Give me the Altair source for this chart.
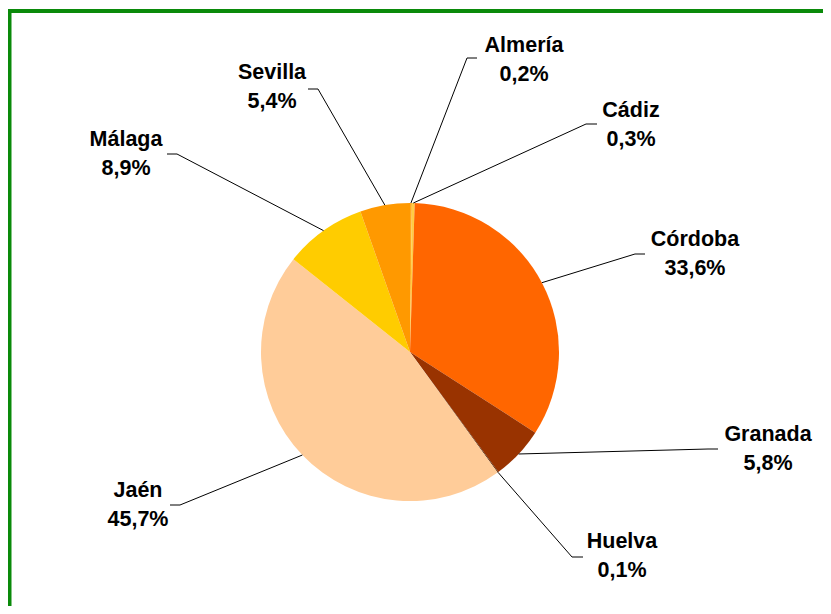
import altair as alt
import pandas as pd

# ---- data ----
regions = ["Almería", "Cádiz", "Córdoba", "Granada", "Huelva", "Jaén", "Málaga", "Sevilla"]
shares = [0.2, 0.3, 33.6, 5.8, 0.1, 45.7, 8.9, 5.4]
colors = ["#FFAA22", "#FFCC44", "#FF6600", "#993300", "#552200", "#FFCC99", "#FFCC00", "#FF9900"]

# ---- layout (chart pixel coordinates) ----
W, H = 815, 598
CX, CY, R = 402, 344, 149
label_x = [516, 623, 687, 760, 614, 130, 118, 264]
name_y = [44, 109, 238, 433, 540, 489, 138, 71]
pct_gap = 29
elbow_x = [459, 578, 627, 700, 564, 172, 169, 310]
elbow_y = [50, 116, 246, 441, 549, 497, 146, 81]
end_x = [469, 589, 637, 710, 575, 162, 159, 300]
end_y = [50, 116, 246, 441, 549, 497, 146, 81]

df = pd.DataFrame({
    "idx": list(range(len(regions))),
    "region": regions,
    "share": shares,
    "pct": [f"{v:.1f}".replace(".", ",") + "%" for v in shares],
    "lx": label_x,
    "ny": name_y,
    "py2": [y + pct_gap for y in name_y],
    "ex": elbow_x,
    "ey": elbow_y,
    "hx": end_x,
    "hy": end_y,
})

xs = alt.Scale(domain=[0, W], range=[0, W])
ys = alt.Scale(domain=[0, H], range=[0, H])
FONT = "Liberation Sans"

base = alt.Chart(df)

pie = base.mark_arc(radius=R).encode(
    theta=alt.Theta("share:Q", stack=True),
    color=alt.Color("region:N", scale=alt.Scale(domain=regions, range=colors), legend=None),
    order=alt.Order("idx:Q"),
    x=alt.value(CX),
    y=alt.value(CY),
)

edge = base.transform_joinaggregate(
    total="sum(share)"
).transform_window(
    cum="sum(share)", frame=[None, 0], sort=[{"field": "idx"}]
).transform_calculate(
    mid=f"(datum.cum - datum.share/2)/datum.total*2*PI",
).transform_calculate(
    px=f"{CX} + {R}*sin(datum.mid)",
    py=f"{CY} - {R}*cos(datum.mid)",
)

leader1 = edge.mark_rule(color="black", strokeWidth=1).encode(
    x=alt.X("px:Q", scale=xs, axis=None),
    y=alt.Y("py:Q", scale=ys, axis=None),
    x2="ex:Q",
    y2="ey:Q",
)

leader2 = base.mark_rule(color="black", strokeWidth=1).encode(
    x=alt.X("ex:Q", scale=xs, axis=None),
    y=alt.Y("ey:Q", scale=ys, axis=None),
    x2="hx:Q",
    y2="hy:Q",
)

names = base.mark_text(font=FONT, fontSize=21.5, fontWeight="bold", color="black",
                       align="center", baseline="alphabetic").encode(
    x=alt.X("lx:Q", scale=xs, axis=None),
    y=alt.Y("ny:Q", scale=ys, axis=None),
    text="region:N",
)

pcts = base.mark_text(font=FONT, fontSize=21.5, fontWeight="bold", color="black",
                      align="center", baseline="alphabetic").encode(
    x=alt.X("lx:Q", scale=xs, axis=None),
    y=alt.Y("py2:Q", scale=ys, axis=None),
    text="pct:N",
)

border = alt.Chart(pd.DataFrame({"a": [0]})).mark_rect(
    fill=None, stroke="#0A8A0A", strokeWidth=4
).encode(
    x=alt.value(1.5), y=alt.value(3), x2=alt.value(W + 20), y2=alt.value(H + 20)
)

chart = alt.layer(border, pie, leader1, leader2, names, pcts).properties(
    width=W, height=H, padding=0, autosize="none", background="white"
).configure_view(stroke=None)

chart.save("out.html", embed_options={"renderer": "svg", "actions": False})
